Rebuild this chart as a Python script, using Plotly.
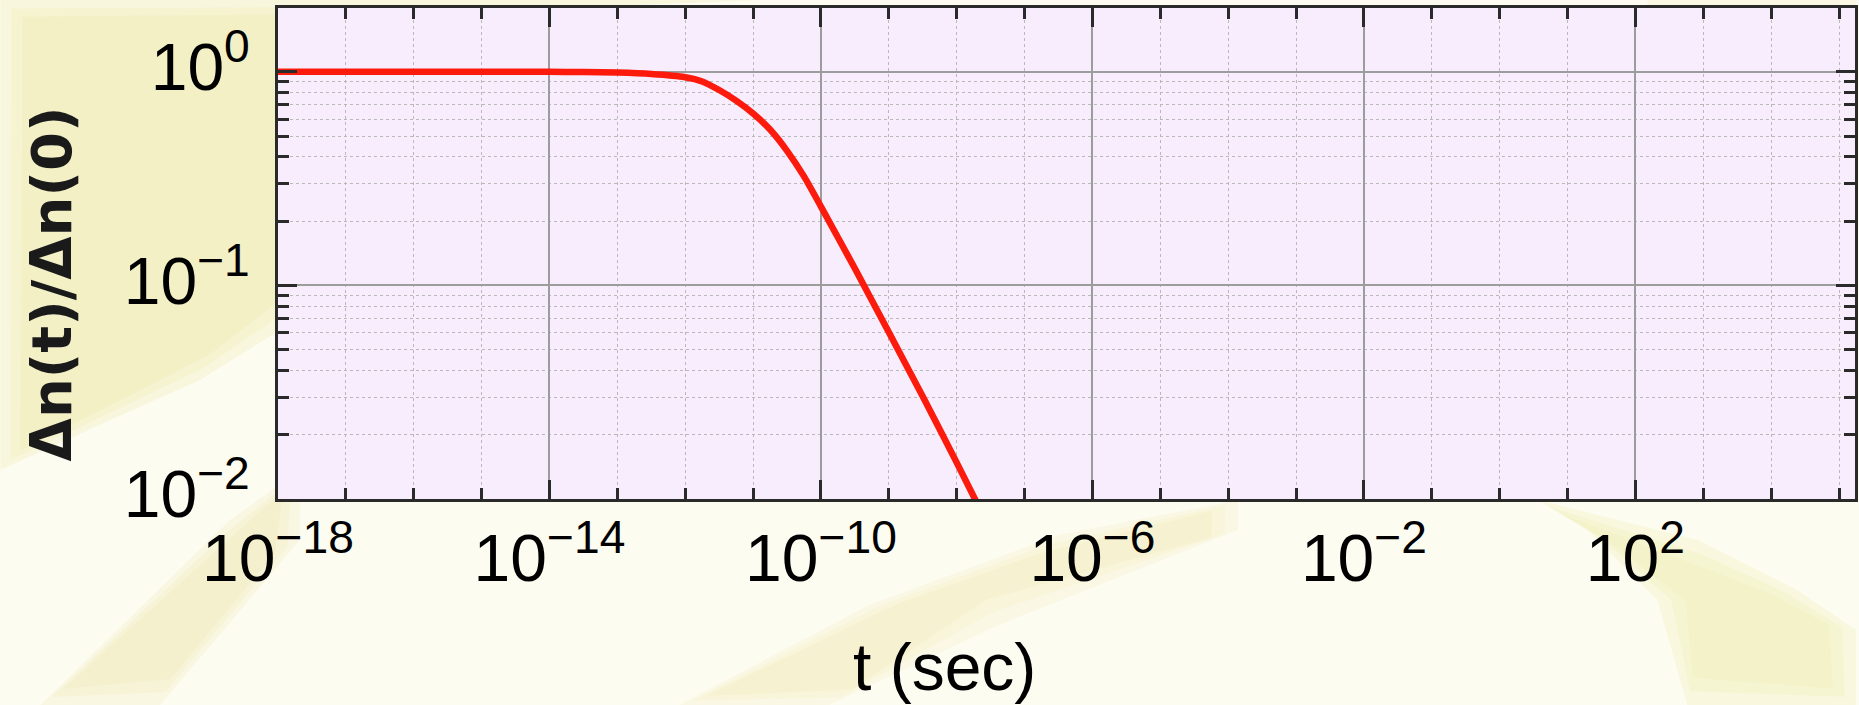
import plotly.graph_objects as go

# ---- data ----
t_exp = [-18, -16, -14, -13.5, -13, -12.5, -12, -11.75, -11.5, -11.25, -11, -10.75, -10.5, -10.25,
         -10, -9.5, -9, -8.5, -8, -7.7]
dn_ratio = [1.0, 1.0, 1.0, 0.998, 0.992, 0.977, 0.944, 0.902, 0.822, 0.733, 0.638, 0.537, 0.427, 0.324,
            0.234, 0.120, 0.0603, 0.0302, 0.0148, 0.00955]
t_sec = [10 ** e for e in t_exp]

x_major_exp = [-18, -14, -10, -6, -2, 2]
x_major_text = ["10<sup>−18</sup>", "10<sup>−14</sup>", "10<sup>−10</sup>", "10<sup>−6</sup>", "10<sup>−2</sup>", "10<sup>2</sup>"]
y_major_vals = [1, 0.1, 0.01]
y_major_text = ["10<sup>0</sup>", "10<sup>−1</sup>", "10<sup>−2</sup>"]

x_minor_vals = [10.0 ** k for k in range(-17, 6) if k not in x_major_exp]
y_minor_vals = [m * 10.0 ** k for k in (-2, -1) for m in range(2, 10)]

W, H = 1859, 705
L, R, T, B = 278, 1, 8, 206
pw = W - L - R
ph = H - T - B


def px_x(p):
    return (p - L) / pw


def px_y(p):
    return (H - B - p) / ph


def path(points):
    return "M " + " L ".join(f"{px_x(x):.4f},{px_y(y):.4f}" for x, y in points) + " Z"


def soft(points, rgb, alpha, grow=(0, 14, 28)):
    # several slightly shrunk copies to soften the edges of a background streak
    cx = sum(p[0] for p in points) / len(points)
    cy = sum(p[1] for p in points) / len(points)
    out = []
    for g in grow:
        pts = []
        for x, y in points:
            dx, dy = x - cx, y - cy
            d = max((dx * dx + dy * dy) ** 0.5, 1)
            pts.append((x - dx / d * g, y - dy / d * g))
        out.append(dict(type="path", path=path(pts), fillcolor=f"rgba({rgb},{alpha})",
                        line=dict(width=0)))
    return out


fig = go.Figure()
fig.add_trace(go.Scatter(x=t_sec, y=dn_ratio, mode="lines",
                         line=dict(color="#fb1a0c", width=6.5, shape="spline", smoothing=0.6),
                         showlegend=False, hoverinfo="skip"))

tickfont = dict(family="Liberation Sans, Arial, sans-serif", size=66, color="#000000")
tickcol = "#2a2a2a"

fig.update_xaxes(type="log", range=[-18, -18 + pw / 68.0],
                 tickmode="array", tickvals=[10.0 ** e for e in x_major_exp], ticktext=x_major_text,
                 ticks="inside", ticklen=19, tickwidth=3, tickcolor=tickcol,
                 showline=True, linewidth=3, linecolor=tickcol, mirror="ticks",
                 showgrid=True, gridcolor="#9c9c9c", gridwidth=1.6,
                 tickfont=tickfont, zeroline=False, layer="above traces",
                 minor=dict(tickmode="array", tickvals=x_minor_vals, ticks="inside", ticklen=11,
                            tickwidth=3, tickcolor=tickcol, showgrid=True,
                            gridcolor="#b9b9b9", gridwidth=1.4, griddash="dot"))
fig.update_yaxes(type="log", range=[-2, 0.299],
                 tickmode="array", tickvals=y_major_vals, ticktext=y_major_text,
                 ticks="inside", ticklen=19, tickwidth=3, tickcolor=tickcol,
                 showline=True, linewidth=3, linecolor=tickcol, mirror="ticks",
                 showgrid=True, gridcolor="#9c9c9c", gridwidth=1.6,
                 tickfont=tickfont, zeroline=False, ticklabelstandoff=12, ticklabelshift=-5,
                 minor=dict(tickmode="array", tickvals=y_minor_vals, ticks="inside", ticklen=11,
                            tickwidth=3, tickcolor=tickcol, showgrid=True,
                            gridcolor="#b9b9b9", gridwidth=1.4, griddash="dot"))

Y = "238,234,172"
shapes = []
shapes += soft([(0, 0), (760, 0), (520, 10), (280, 10), (280, 330), (200, 380), (110, 420), (0, 470)], Y, 0.28)
shapes += soft([(40, 705), (160, 705), (300, 540), (300, 470), (230, 520)], Y, 0.22)
shapes += soft([(680, 705), (830, 705), (1000, 625), (1240, 530), (1240, 500), (1060, 535), (870, 605)], Y, 0.18)
shapes += soft([(1540, 500), (1700, 540), (1800, 590), (1859, 630), (1859, 705), (1690, 705), (1660, 600), (1590, 530)], Y, 0.26)
shapes += soft([(1650, 0), (1859, 0), (1859, 12), (1650, 12)], Y, 0.2, grow=(0,))
# plot-area background drawn over the pattern
shapes.append(dict(type="rect", x0=0, x1=1, y0=0, y1=1, fillcolor="#f8edfc", line=dict(width=0)))
for s in shapes:
    s.update(xref="paper", yref="paper", layer="below")

fig.add_annotation(text="t (sec)", xref="paper", yref="paper", x=px_x(946), y=px_y(667),
                   xanchor="center", yanchor="middle", showarrow=False,
                   font=dict(family="Liberation Sans, Arial, sans-serif", size=66, color="#000000"))
fig.add_annotation(text="<b>Δn(t)/Δn(0)</b>", xref="paper", yref="paper", x=px_x(51), y=px_y(284),
                   xanchor="center", yanchor="middle", textangle=-90, showarrow=False,
                   font=dict(family="DejaVu Sans, sans-serif", size=56, color="#1a1a1a"))

fig.update_layout(width=W, height=H, margin=dict(l=L, r=R, t=T, b=B, pad=0),
                  paper_bgcolor="#fdfcf1", plot_bgcolor="rgba(0,0,0,0)",
                  shapes=shapes, showlegend=False)

fig.write_html("out.html")
